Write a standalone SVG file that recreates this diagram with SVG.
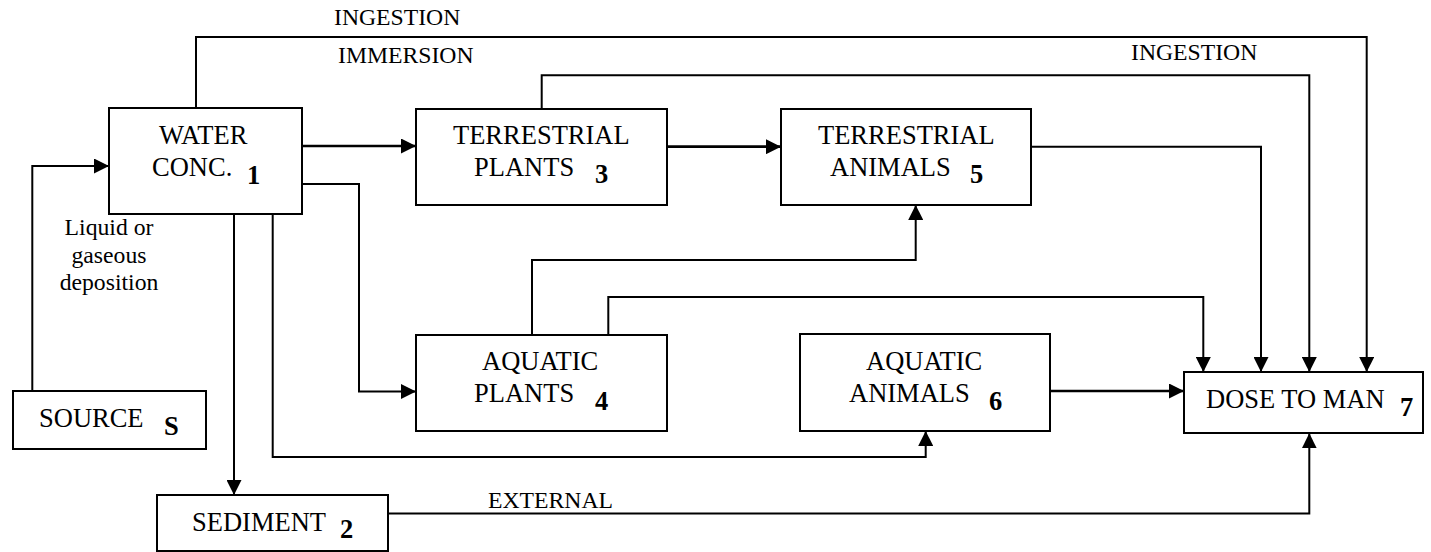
<svg xmlns="http://www.w3.org/2000/svg" width="1431" height="552" viewBox="0 0 1431 552">
<style>
.box{fill:#fff;stroke:#000;stroke-width:2}
.t{font-family:"Liberation Serif","Times New Roman",serif;font-size:26.5px;fill:#000}
.n{font-family:"Liberation Serif","Times New Roman",serif;font-size:26.5px;font-weight:bold;fill:#000}
.l{font-family:"Liberation Serif","Times New Roman",serif;font-size:23.7px;fill:#000}
.c{fill:none;stroke:#000;stroke-width:2}
.a{marker-end:url(#ah)}
.k{stroke-width:2.7}
</style>
<defs>
<marker id="ah" markerUnits="userSpaceOnUse" viewBox="0 0 15 15" markerWidth="15" markerHeight="15" refX="15" refY="7.5" orient="auto">
<path d="M0,0 L15,7.5 L0,15 z" fill="#000"/>
</marker>
</defs>
<rect width="1431" height="552" fill="#fff"/>
<g id="connectors">
<path class="c a" d="M196,108 V37 H1366.7 V372"/>
<path class="c a" d="M541.7,109 V75.3 H1309.3 V372"/>
<path class="c a" d="M1031,146.7 H1261 V372"/>
<path class="c a" d="M608.3,335 V297 H1203.3 V372"/>
<path class="c a" d="M532,335 V260 H915.7 V205"/>
<path class="c a k" d="M302,146 H416"/>
<path class="c a k" d="M667,146.7 H781"/>
<path class="c a k" d="M1050,391 H1184"/>
<path class="c a" d="M32.3,396 V166 H109"/>
<path class="c a" d="M302,184 H359 V391.5 H416"/>
<path class="c a" d="M234,214 V495"/>
<path class="c a" d="M272.7,212 V457 H925.7 V431"/>
<path class="c a" d="M387.7,513.5 H1309.3 V433.3"/>
<text class="l" x="334" y="25">INGESTION</text>
<text class="l" x="338" y="63">IMMERSION</text>
<text class="l" x="1131" y="60">INGESTION</text>
<text class="l" x="488" y="508">EXTERNAL</text>
<text class="l" x="109" y="235" text-anchor="middle">Liquid or</text>
<text class="l" x="109" y="263" text-anchor="middle">gaseous</text>
<text class="l" x="109" y="290" text-anchor="middle">deposition</text>
</g>
<g id="water">
<rect class="box" x="109" y="108" width="193" height="106"/>
<text class="t" x="159" y="144">WATER</text>
<text class="t" x="152" y="176">CONC.</text>
<text class="n" x="247" y="184">1</text>
</g>
<g id="terrestrial-plants">
<rect class="box" x="416" y="109" width="251" height="96"/>
<text class="t" x="453" y="144">TERRESTRIAL</text>
<text class="t" x="474" y="176">PLANTS</text>
<text class="n" x="595" y="183">3</text>
</g>
<g id="terrestrial-animals">
<rect class="box" x="781" y="109" width="250" height="96"/>
<text class="t" x="818" y="144">TERRESTRIAL</text>
<text class="t" x="830" y="176">ANIMALS</text>
<text class="n" x="970" y="183">5</text>
</g>
<g id="aquatic-plants">
<rect class="box" x="416" y="335" width="251" height="96"/>
<text class="t" x="482" y="370">AQUATIC</text>
<text class="t" x="474" y="402">PLANTS</text>
<text class="n" x="595" y="410">4</text>
</g>
<g id="aquatic-animals">
<rect class="box" x="800" y="334" width="250" height="97"/>
<text class="t" x="866" y="370">AQUATIC</text>
<text class="t" x="849" y="402">ANIMALS</text>
<text class="n" x="989" y="410">6</text>
</g>
<g id="dose">
<rect class="box" x="1184" y="372" width="239" height="61"/>
<text class="t" x="1206" y="408">DOSE TO MAN</text>
<text class="n" x="1400" y="416">7</text>
</g>
<g id="source">
<rect class="box" x="13" y="391" width="193" height="58"/>
<text class="t" x="39" y="427">SOURCE</text>
<text class="n" x="164" y="435">S</text>
</g>
<g id="sediment">
<rect class="box" x="157" y="495" width="231" height="56"/>
<text class="t" x="192" y="531">SEDIMENT</text>
<text class="n" x="340" y="538">2</text>
</g>
</svg>
